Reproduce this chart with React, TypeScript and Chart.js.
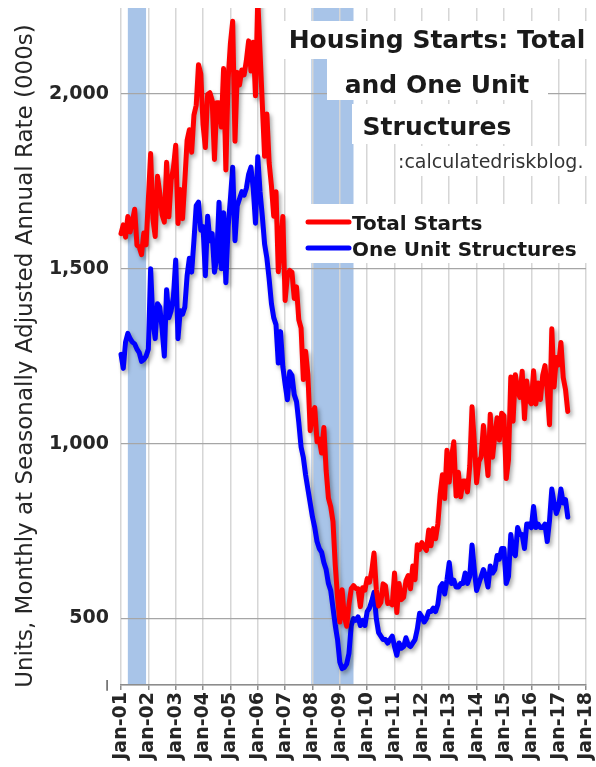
import { useEffect, useRef } from "react";
import { Chart, registerables } from "chart.js";

Chart.register(...registerables);

// ---------- data ----------
const xTickLabels = [
  "Jan-01", "Jan-02", "Jan-03", "Jan-04", "Jan-05", "Jan-06", "Jan-07", "Jan-08", "Jan-09",
  "Jan-10", "Jan-11", "Jan-12", "Jan-13", "Jan-14", "Jan-15", "Jan-16", "Jan-17", "Jan-18",
];
const yMin = 310;
const yMax = 2245;
const yTickValues = [310, 500, 1000, 1500, 2000];
const minTickLabel = "|";

const seriesNames = ["Total Starts", "One Unit Structures"];
const titleLines = ["Housing Starts: Total", "and One Unit", "Structures"];
const sourceText = ":calculatedriskblog.";
const yAxisTitle = "Units, Monthly at Seasonally Adjusted Annual Rate (000s)";

// month index 0 = Jan 2001 ... last = May 2017
const totalStarts = [
  1600, 1625, 1590, 1649, 1605, 1636, 1670, 1567, 1562, 1540, 1602, 1568,
  1698, 1829, 1642, 1592, 1764, 1717, 1655, 1633, 1804, 1648, 1753, 1788,
  1853, 1629, 1726, 1643, 1751, 1867, 1897, 1833, 1939, 1967, 2083, 2057,
  1911, 1846, 1998, 2003, 1981, 1812, 1974, 1974, 1905, 2072, 1782, 2042,
  2144, 2207, 1864, 2061, 2025, 2068, 2054, 2095, 2151, 2065, 2147, 1994,
  2273, 2119, 1969, 1821, 1942, 1802, 1737, 1650, 1720, 1491, 1570, 1649,
  1409, 1480, 1495, 1490, 1415, 1448, 1354, 1330, 1183, 1264, 1197, 1037,
  1084, 1103, 1005, 1013, 973, 1046, 923, 844, 820, 777, 652, 560,
  490, 582, 505, 478, 540, 585, 594, 586, 585, 534, 588, 581,
  614, 604, 636, 687, 583, 536, 546, 599, 594, 543, 545, 539,
  630, 517, 600, 554, 561, 608, 623, 585, 650, 611, 711, 697,
  717, 705, 695, 753, 708, 757, 728, 770, 854, 911, 843, 981,
  890, 962, 1005, 850, 918, 848, 893, 893, 862, 936, 1105, 1003,
  888, 949, 962, 1052, 984, 909, 1084, 961, 1023, 1074, 1010, 1087,
  1080, 900, 954, 1190, 1064, 1197, 1152, 1132, 1207, 1071, 1179, 1123,
  1114, 1208, 1113, 1173, 1126, 1195, 1223, 1150, 1054, 1328, 1162, 1246,
  1225, 1289, 1189, 1155, 1092,
];

const oneUnitStructures = [
  1255, 1215, 1290, 1315, 1300, 1290, 1285, 1270, 1260, 1235, 1240, 1250,
  1270, 1500, 1350, 1300, 1400, 1390, 1330, 1250, 1440, 1360, 1380, 1420,
  1525, 1300, 1380, 1370, 1390, 1480, 1530, 1490, 1580, 1680, 1690, 1610,
  1620, 1480, 1650, 1580, 1600, 1490, 1530, 1690, 1500, 1660, 1460, 1620,
  1700, 1790, 1580, 1680, 1700, 1720, 1710, 1730, 1770, 1790, 1730, 1630,
  1820, 1720, 1650, 1570, 1530, 1470, 1400, 1360, 1340, 1230, 1320, 1220,
  1170, 1125, 1205, 1195, 1140, 1120, 1060, 990, 960, 910, 870, 830,
  790, 760, 720, 700, 690, 660, 640, 600, 580, 530, 480, 440,
  375, 357, 360, 370, 400, 480, 500, 495, 505, 480, 495, 480,
  520, 530, 550, 575, 500, 460, 450, 440, 440, 430, 440, 450,
  420, 395, 430, 415, 420, 445, 425, 420, 430, 440, 470, 515,
  505, 490, 500, 520, 520, 530, 520, 540, 590, 600, 570, 610,
  660, 600, 610, 590, 590, 600, 600, 630, 600, 620, 710, 640,
  580, 600, 620, 640, 620, 590, 650, 630, 640, 680, 670, 700,
  700, 600, 620, 740, 690, 680, 760, 740, 740, 700, 770, 770,
  760, 820, 760, 770, 760, 760, 770, 720, 780, 870, 830, 800,
  820, 870, 830, 840, 790,
];

// recession shading, in month indices from Jan 2001
const recessionStartMonths = [3, 83.5];
const recessionEndMonths = [11, 102];

// ---------- plugins ----------
const FONT = "'DejaVu Sans', sans-serif";

const bandsPlugin = {
  id: "recessionBands",
  beforeDraw(chart: any) {
    const { ctx, chartArea } = chart;
    const x = chart.scales.x;
    ctx.save();
    ctx.fillStyle = "#a8c4e8";
    recessionStartMonths.forEach((s, i) => {
      const x0 = x.getPixelForValue(s);
      const x1 = x.getPixelForValue(recessionEndMonths[i]);
      ctx.fillRect(x0, chartArea.top, x1 - x0, chartArea.bottom - chartArea.top);
    });
    ctx.restore();
  },
};

const overlayPlugin = {
  id: "overlay",
  beforeDatasetsDraw(chart: any) {
    const ctx = chart.ctx;
    ctx.save();
    // white boxes behind title, source and legend
    ctx.fillStyle = "#ffffff";
    const boxes = [
      [281, 21, 315, 38],
      [327, 58, 221, 42],
      [352, 104, 178, 40],
      [397, 146, 199, 30],
      [297, 204, 297, 59],
    ];
    boxes.forEach(([bx, by, bw, bh]) => ctx.fillRect(bx, by, bw, bh));

    // title
    ctx.fillStyle = "#1a1a1a";
    ctx.textAlign = "center";
    ctx.textBaseline = "alphabetic";
    ctx.font = `bold 25px ${FONT}`;
    const baselines = [48, 93, 135];
    titleLines.forEach((t, i) => ctx.fillText(t, 437, baselines[i]));

    // source
    ctx.textAlign = "left";
    ctx.fillStyle = "#333333";
    ctx.font = `19px ${FONT}`;
    ctx.fillText(sourceText, 398, 168);

    // legend
    const colors = ["#ff0000", "#0000ff"];
    const rowY = [222, 248];
    ctx.font = `bold 20px ${FONT}`;
    seriesNames.forEach((name, i) => {
      ctx.strokeStyle = colors[i];
      ctx.lineWidth = 5;
      ctx.lineCap = "round";
      ctx.beginPath();
      ctx.moveTo(308, rowY[i]);
      ctx.lineTo(349, rowY[i]);
      ctx.stroke();
      ctx.fillStyle = "#1a1a1a";
      ctx.fillText(name, 352, rowY[i] + 8);
    });

    // y axis title
    ctx.save();
    ctx.translate(32, 356);
    ctx.rotate(-Math.PI / 2);
    ctx.textAlign = "center";
    ctx.textBaseline = "alphabetic";
    ctx.fillStyle = "#262626";
    ctx.font = `23px ${FONT}`;
    ctx.fillText(yAxisTitle, 0, 0);
    ctx.restore();

    ctx.restore();
  },
};

const shadowPlugin = {
  id: "lineShadow",
  beforeDatasetDraw(chart: any) {
    const c = chart.ctx;
    c.save();
    c.shadowColor = "rgba(0,0,0,0.35)";
    c.shadowBlur = 4;
    c.shadowOffsetX = 2;
    c.shadowOffsetY = 3;
  },
  afterDatasetDraw(chart: any) {
    chart.ctx.restore();
  },
};

export default function App() {
  const canvasRef = useRef<HTMLCanvasElement | null>(null);

  useEffect(() => {
    if (!canvasRef.current) return;
    const chart = new Chart(canvasRef.current, {
      type: "line",
      data: {
        datasets: [
          {
            label: seriesNames[0],
            data: totalStarts.map((v, i) => ({ x: i, y: v })),
            borderColor: "#ff0000",
            borderWidth: 5,
            pointRadius: 0,
            tension: 0,
            borderJoinStyle: "round",
            borderCapStyle: "round",
            clip: { left: 3, right: 3, top: 0, bottom: 3 },
          },
          {
            label: seriesNames[1],
            data: oneUnitStructures.map((v, i) => ({ x: i, y: v })),
            borderColor: "#0000ff",
            borderWidth: 5,
            pointRadius: 0,
            tension: 0,
            borderJoinStyle: "round",
            borderCapStyle: "round",
            clip: { left: 3, right: 3, top: 0, bottom: 3 },
          },
        ],
      },
      options: {
        responsive: false,
        animation: false,
        devicePixelRatio: 1,
        layout: { padding: { left: 0, right: 10, top: 8, bottom: 0 } },
        plugins: {
          legend: { display: false },
          tooltip: { enabled: false },
          title: { display: false },
        },
        scales: {
          x: {
            type: "linear",
            min: 0,
            max: (xTickLabels.length - 1) * 12,
            afterBuildTicks: (s: any) => {
              s.ticks = xTickLabels.map((_, i) => ({ value: i * 12 }));
            },
            afterFit: (s: any) => {
              s.height = 82;
              s.paddingLeft = 0;
              s.paddingRight = 0;
            },
            grid: {
              color: "#d6d6d6",
              lineWidth: 1.5,
              drawTicks: true,
              tickLength: 5,
              tickColor: "#8c8c8c",
            },
            border: { display: true, color: "#8c8c8c", width: 1.5 },
            ticks: {
              autoSkip: false,
              minRotation: 90,
              maxRotation: 90,
              padding: 2,
              color: "#262626",
              font: { family: FONT, weight: "bold", size: 19 },
              callback: (v: any) => xTickLabels[Math.round(Number(v) / 12)],
            },
          },
          y: {
            type: "linear",
            min: yMin,
            max: yMax,
            afterBuildTicks: (s: any) => {
              s.ticks = yTickValues.map((v) => ({ value: v }));
            },
            afterFit: (s: any) => {
              s.width = 121;
              s.paddingTop = 0;
              s.paddingBottom = 0;
            },
            grid: { color: "#a6a6a6", lineWidth: 1.3, drawTicks: false },
            border: { display: false },
            ticks: {
              padding: 12,
              color: "#262626",
              font: (c: any) =>
                c.tick && c.tick.value === yMin
                  ? { family: FONT, weight: "bold", size: 10 }
                  : { family: FONT, weight: "bold", size: 19 },
              callback: (v: any) =>
                Number(v) === yMin ? minTickLabel : Number(v).toLocaleString("en-US"),
            },
          },
        },
      } as any,
      plugins: [bandsPlugin, overlayPlugin, shadowPlugin],
    });
    return () => chart.destroy();
  }, []);

  return (
    <div
      style={{
        position: "absolute",
        left: 0,
        top: 0,
        width: 596,
        height: 767,
        background: "#ffffff",
      }}
    >
      <canvas ref={canvasRef} width={596} height={767} />
    </div>
  );
}
